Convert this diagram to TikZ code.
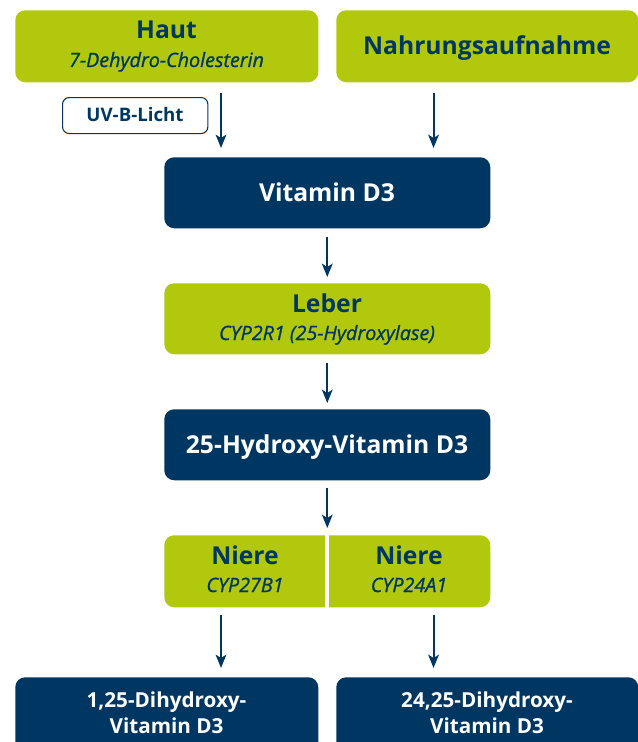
\documentclass[tikz,border=0pt]{standalone}
\usepackage{fontspec}
\setmainfont{Open Sans}
\newfontface\subitfont{Open Sans Italic}[FakeBold=1]
\usetikzlibrary{arrows.meta,calc}
\definecolor{vgreen}{RGB}{177,200,12}
\definecolor{vblue}{RGB}{0,55,98}
\begin{document}
\begin{tikzpicture}[x=0.75pt,y=-0.75pt,
  box/.style={rounded corners=7.5pt,inner sep=0pt,anchor=north west},
  gbox/.style={box,fill=vgreen},
  bbox/.style={box,fill=vblue},
  title/.style={anchor=base,inner sep=0pt,font=\fontsize{18.5}{22}\selectfont\bfseries},
  gtitle/.style={title,text=vblue},
  btitle/.style={title,text=white},
  sub/.style={anchor=base,inner sep=0pt,text=vblue,font=\subitfont\fontsize{14.8}{18}\selectfont},
  btext/.style={anchor=base,inner sep=0pt,text=white,font=\fontsize{15.5}{19}\selectfont\bfseries},
  arr/.style={draw=vblue,line width=1.5pt,-{Stealth[length=10pt,width=8pt,inset=2.5pt]}}
]
\useasboundingbox (0,0) rectangle (638,742);
\begin{scope}
\clip (0,0) rectangle (638,742);
% top row
\node[gbox,minimum width=227.25pt,minimum height=54pt] (haut) at (15,10) {};
\node[gtitle] (hautt) at (166.5,39) {Haut};
\node[sub] (hauts) at (166.5,67) {7-Dehydro-Cholesterin};
\node[gbox,minimum width=226.5pt,minimum height=54pt] (nahr) at (336,10) {};
\node[gtitle] (nahrt) at (487,55) {Nahrungsaufnahme};
\node[box,draw=vblue,line width=0.8pt,fill=white,minimum width=109pt,minimum height=27pt,
  rounded corners=5pt] (uvb) at (62,97) {};
\node[anchor=base,inner sep=0pt,text=vblue,font=\fontsize{14}{17}\selectfont\bfseries] (uvbt) at (135,122) {UV-B-Licht};
% middle column
\node[bbox,minimum width=244.5pt,minimum height=53.25pt] (vd) at (164,157) {};
\node[btitle] (vdt) at (327,201) {Vitamin D3};
\node[gbox,minimum width=244.5pt,minimum height=53.25pt] (leber) at (164,283) {};
\node[gtitle] (lebert) at (327,312) {Leber};
\node[sub] (lebers) at (327,340) {CYP2R1 (25-Hydroxylase)};
\node[bbox,minimum width=244.5pt,minimum height=53.25pt] (hvd) at (164,409) {};
\node[btitle] (hvdt) at (327,453) {25-Hydroxy-Vitamin D3};
% Niere (split box)
\node[gbox,minimum width=244.5pt,minimum height=54pt] (niere) at (164,535) {};
\draw[white,line width=3pt] (niere.north) -- (niere.south);
\node[gtitle] (nlt) at (245,564) {Niere};
\node[sub] (nls) at (245,592) {CYP27B1};
\node[gtitle] (nrt) at (409,564) {Niere};
\node[sub] (nrs) at (409,592) {CYP24A1};
% bottom row
\node[bbox,minimum width=227.25pt,minimum height=60pt] (dl) at (15,677) {};
\node[bbox,minimum width=226.5pt,minimum height=60pt] (dr) at (336,677) {};
\node[btext] (dlt1) at (166.5,707) {1,25-Dihydroxy-};
\node[btext] (dlt2) at (166.5,733) {Vitamin D3};
\node[btext] (drt1) at (487,707) {24,25-Dihydroxy-};
\node[btext] (drt2) at (487,733) {Vitamin D3};
\end{scope}
% arrow coordinates
\coordinate (a1) at ([xshift=42.75pt]vd.north west);
\coordinate (a2) at ([xshift=-42.75pt]vd.north east);
\coordinate (b1) at ([xshift=42.75pt]niere.south west);
\coordinate (b2) at ([xshift=-42.75pt]niere.south east);
\draw[arr,shorten <=7.5pt,shorten >=6.75pt] (haut.south -| a1) -- (a1);
\draw[arr,shorten <=7.5pt,shorten >=6.75pt] (nahr.south -| a2) -- (a2);
\draw[arr,shorten <=6pt,shorten >=4.5pt] (vd) -- (leber);
\draw[arr,shorten <=6pt,shorten >=4.5pt] (leber) -- (hvd);
\draw[arr,shorten <=5.25pt,shorten >=5.25pt] (hvd) -- (niere);
\draw[arr,shorten <=5.25pt,shorten >=6.75pt] (b1) -- (dl.north -| b1);
\draw[arr,shorten <=5.25pt,shorten >=6.75pt] (b2) -- (dr.north -| b2);
\end{tikzpicture}
\end{document}
